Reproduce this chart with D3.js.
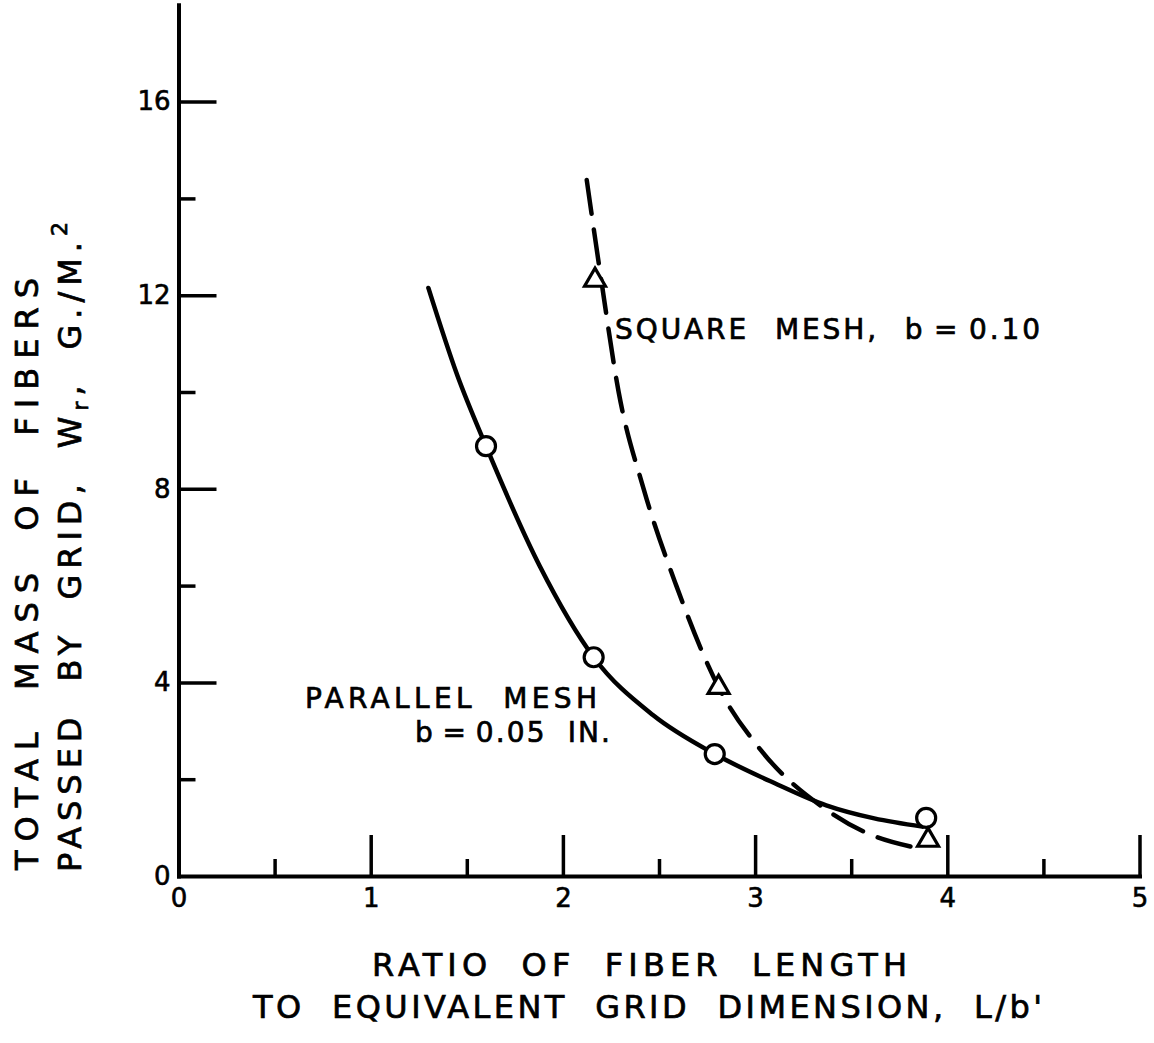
<!DOCTYPE html>
<html>
<head>
<meta charset="utf-8">
<script src="https://cdn.jsdelivr.net/npm/d3@7"></script>
<style>
  html, body { margin: 0; padding: 0; background: #fff; }
  svg { display: block; }
  text { font-family: "DejaVu Sans", "Liberation Sans", sans-serif; fill: #000; }
</style>
</head>
<body>
<svg id="chart" width="1154" height="1043"></svg>
<script>
// ---- data ----
const xMajorTicks = [1, 2, 3, 4, 5];
const xMinorTicks = [0.5, 1.5, 2.5, 3.5, 4.5];
const xTickLabels = [0, 1, 2, 3, 4, 5];
const yMajorTicks = [4, 8, 12, 16];
const yMinorTicks = [2, 6, 10, 14];
const yTickLabels = [0, 4, 8, 12, 16];

// Parallel mesh, b = 0.05 in. (circles)
const parallelX = [1.60, 2.16, 2.79, 3.89];
const parallelY = [8.88, 4.52, 2.52, 1.20];
// Square mesh, b = 0.10 (triangles)
const squareX = [2.167, 2.81, 3.90];
const squareY = [12.31, 3.90, 0.74];

// drawn fitted curves
const parallelCurveX = [1.30, 1.45, 1.60, 1.88, 2.16, 2.47, 2.79, 3.10, 3.37, 3.62, 3.87];
const parallelCurveY = [12.15, 10.35, 8.88, 6.40, 4.52, 3.32, 2.52, 1.92, 1.46, 1.19, 1.02];
const squareCurveX = [2.124, 2.20, 2.29, 2.42, 2.59, 2.81, 3.03, 3.36, 3.58, 3.84];
const squareCurveY = [14.38, 12.3, 10.0, 8.0, 6.0, 3.90, 2.60, 1.40, 0.89, 0.58];

const xTitle1 = "RATIO OF FIBER LENGTH";
const xTitle2 = "TO EQUIVALENT GRID DIMENSION, L/b'";
const yTitle1 = "TOTAL MASS OF FIBERS";
const squareLabel = "SQUARE MESH, b\u2009=\u20090.10";
const parallelLabel1 = "PARALLEL MESH";
const parallelLabel2 = "b\u2009=\u20090.05 IN.";

// ---- layout ----
const svg = d3.select("#chart");
const x = d3.scaleLinear().domain([0, 5]).range([178.5, 1139.5]);
const y = d3.scaleLinear().domain([0, 18]).range([876, 876 - 18 * 48.4]);

const axisStyle = g => {
  g.selectAll(".domain").attr("stroke", "#000").attr("stroke-width", 4).attr("stroke-linecap", "square");
  g.selectAll(".tick line").attr("stroke", "#000").attr("stroke-width", 3.5);
};
const tickText = g => g.selectAll("text")
  .attr("font-size", 26).attr("font-family", "DejaVu Sans").attr("fill", "#000")
  .attr("stroke", "#000").attr("stroke-width", 0.6);

// x axis
const gx = svg.append("g").attr("transform", `translate(0,${y(0)})`);
gx.append("g").call(d3.axisBottom(x).tickValues(xMajorTicks).tickSizeInner(-41).tickSizeOuter(0).tickFormat(""))
  .call(axisStyle);
gx.append("g").call(d3.axisBottom(x).tickValues(xMinorTicks).tickSizeInner(-17).tickSizeOuter(0).tickFormat(""))
  .call(axisStyle).call(g => g.select(".domain").remove());
gx.append("g").call(d3.axisBottom(x).tickValues(xTickLabels).tickSize(0).tickPadding(13).tickFormat(d3.format("d")))
  .call(g => g.select(".domain").remove())
  .call(tickText);

// y axis
const gy = svg.append("g").attr("transform", `translate(${x(0)},0)`);
gy.append("g").call(d3.axisLeft(y).tickValues(yMajorTicks).tickSizeInner(-38).tickSizeOuter(0).tickFormat(""))
  .call(axisStyle);
gy.append("g").call(d3.axisLeft(y).tickValues(yMinorTicks).tickSizeInner(-17).tickSizeOuter(0).tickFormat(""))
  .call(axisStyle).call(g => g.select(".domain").remove());
gy.append("g").call(d3.axisLeft(y).tickValues(yTickLabels).tickSize(0).tickPadding(8).tickFormat(d3.format("d")))
  .call(g => g.select(".domain").remove())
  .call(tickText);

// ---- curves ----
const line = d3.line().x(d => x(d[0])).y(d => y(d[1])).curve(d3.curveMonotoneX);
const parallelCurve = parallelCurveX.map((v, i) => [v, parallelCurveY[i]]);
const squareCurve = squareCurveX.map((v, i) => [v, squareCurveY[i]]);

svg.append("path").datum(parallelCurve).attr("d", line)
  .attr("fill", "none").attr("stroke", "#000").attr("stroke-width", 4.5).attr("stroke-linecap", "round");
svg.append("path").datum(squareCurve).attr("d", line)
  .attr("fill", "none").attr("stroke", "#000").attr("stroke-width", 4.5)
  .attr("stroke-dasharray", "34 16").attr("stroke-linecap", "round");

// ---- markers ----
svg.append("g").selectAll("circle")
  .data(parallelX.map((v, i) => [v, parallelY[i]]))
  .join("circle")
  .attr("cx", d => x(d[0])).attr("cy", d => y(d[1])).attr("r", 9.5)
  .attr("fill", "#fff").attr("stroke", "#000").attr("stroke-width", 3.2);

const tri = d3.symbol().type(d3.symbolTriangle).size(190);
svg.append("g").selectAll("path")
  .data(squareX.map((v, i) => [v, squareY[i]]))
  .join("path")
  .attr("d", tri)
  .attr("transform", d => `translate(${x(d[0])},${y(d[1])})`)
  .attr("fill", "#fff").attr("stroke", "#000").attr("stroke-width", 3.2).attr("stroke-linejoin", "miter");

// ---- text ----
function label(txt, px, py, size, len, opts = {}) {
  const t = svg.append("text")
    .attr("x", px).attr("y", py)
    .attr("font-size", size)
    .attr("stroke", "#000").attr("stroke-width", 0.7)
    .attr("textLength", len).attr("lengthAdjust", "spacing")
    .style("word-spacing", (opts.ws || 0) + "px")
    .text(txt);
  if (opts.rotate) t.attr("transform", `rotate(-90,${px},${py})`);
  return t;
}

label(squareLabel, 615, 339, 28, 425, {ws: 14});
label(parallelLabel1, 305, 708, 28, 292, {ws: 14});
label(parallelLabel2, 415, 742, 28, 195, {ws: 10});

label(xTitle1, 372, 976, 32, 535, {ws: 14});
label(xTitle2, 253, 1018, 32, 789, {ws: 14});

label(yTitle1, 38, 870, 32, 592, {ws: 14, rotate: true});

// second y title line with subscript and superscript
const yt2 = svg.append("text")
  .attr("x", 81).attr("y", 872)
  .attr("font-size", 32)
  .attr("stroke", "#000").attr("stroke-width", 0.7)
  .attr("transform", "rotate(-90,81,872)")
  .attr("textLength", 650).attr("lengthAdjust", "spacing")
  .style("word-spacing", "14px");
yt2.append("tspan").text("PASSED BY GRID, W");
yt2.append("tspan").attr("font-size", 22).attr("dy", 7).text("r");
yt2.append("tspan").attr("dy", -7).text(", G./M.");
yt2.append("tspan").attr("font-size", 22).attr("dy", -14).text("2");
</script>
</body>
</html>
